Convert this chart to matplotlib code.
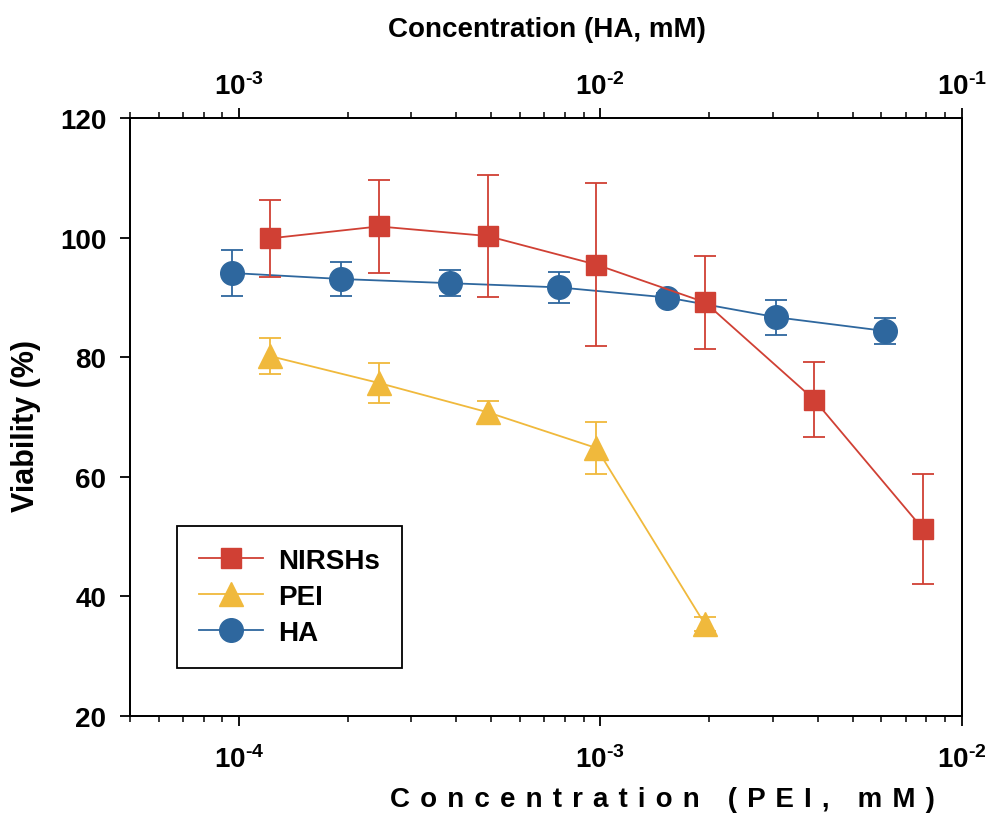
import matplotlib
matplotlib.use("Agg")
import matplotlib.pyplot as plt
from matplotlib.ticker import FixedLocator, FixedFormatter, LogLocator, NullFormatter
from matplotlib.lines import Line2D

plt.rcParams['font.family'] = ['Liberation Sans', 'DejaVu Sans']
plt.rcParams['font.weight'] = 'bold'
plt.rcParams['mathtext.fontset'] = 'custom'
plt.rcParams['mathtext.rm'] = 'Liberation Sans:bold'
plt.rcParams['mathtext.bf'] = 'Liberation Sans:bold'
plt.rcParams['mathtext.default'] = 'bf'
plt.rcParams['axes.unicode_minus'] = False

# data
pei_conc = [1.22e-4, 2.44e-4, 4.88e-4, 9.77e-4, 1.95e-3, 3.91e-3, 7.81e-3]
nirsh_val = [99.9, 101.9, 100.3, 95.5, 89.2, 72.9, 51.3]
nirsh_err = [6.5, 7.8, 10.2, 13.6, 7.8, 6.3, 9.2]

pei_x = [1.22e-4, 2.44e-4, 4.88e-4, 9.77e-4, 1.95e-3]
pei_val = [80.2, 75.7, 70.8, 64.8, 35.3]
pei_err = [3.0, 3.3, 1.9, 4.4, 1.2]

ha_conc = [9.6e-4, 1.92e-3, 3.84e-3, 7.68e-3, 1.536e-2, 3.072e-2, 6.144e-2]
ha_val = [94.1, 93.1, 92.4, 91.7, 90.0, 86.7, 84.4]
ha_err = [3.8, 2.8, 2.2, 2.6, 0.8, 2.9, 2.2]

bottom_ticks = [1e-4, 1e-3, 1e-2]
bottom_labels = ['$10^{\u20104}$', '$10^{\u20103}$', '$10^{\u20102}$']
top_ticks = [1e-3, 1e-2, 1e-1]
top_labels = ['$10^{\u20103}$', '$10^{\u20102}$', '$10^{\u20101}$']
y_ticks = [20, 40, 60, 80, 100, 120]

red = '#D04034'
yellow = '#F0B93C'
blue = '#2E679E'

fig = plt.figure(figsize=(9.89, 8.2), dpi=100)
ax = fig.add_axes([0.1314, 0.126, 0.8408, 0.7285])
ax2 = ax.twiny()

# HA on the top axis
ax2.errorbar(ha_conc, ha_val, yerr=ha_err, color=blue, marker='o', ms=17,
             lw=1.3, elinewidth=1.3, capsize=8, capthick=1.3)

ax.errorbar(pei_conc, nirsh_val, yerr=nirsh_err, color=red, marker='s', ms=14.5,
            lw=1.3, elinewidth=1.3, capsize=8, capthick=1.3)
ax.errorbar(pei_x, pei_val, yerr=pei_err, color=yellow, marker='^', ms=17,
            lw=1.3, elinewidth=1.3, capsize=8, capthick=1.3)

ax.set_zorder(ax2.get_zorder() + 1)
ax.patch.set_visible(False)

ax.set_xscale('log')
ax2.set_xscale('log')
ax.set_xlim(5e-5, 1e-2)
ax2.set_xlim(5e-4, 1e-1)
ax.set_ylim(20, 120)

ax.xaxis.set_major_locator(FixedLocator(bottom_ticks))
ax.xaxis.set_major_formatter(FixedFormatter(bottom_labels))
ax.xaxis.set_minor_locator(LogLocator(base=10, subs=range(2, 10)))
ax.xaxis.set_minor_formatter(NullFormatter())
ax2.xaxis.set_major_locator(FixedLocator(top_ticks))
ax2.xaxis.set_major_formatter(FixedFormatter(top_labels))
ax2.xaxis.set_minor_locator(LogLocator(base=10, subs=range(2, 10)))
ax2.xaxis.set_minor_formatter(NullFormatter())
ax.set_yticks(y_ticks)

for a in (ax, ax2):
    for s in a.spines.values():
        s.set_linewidth(1.3)
ax.tick_params(axis='x', which='major', direction='out', length=7, width=1.3,
               labelsize=20, pad=14, top=False)
ax.tick_params(axis='x', which='minor', direction='out', length=4, width=1.1, top=False)
ax.tick_params(axis='y', direction='out', length=7, width=1.3, labelsize=20, pad=10,
               right=False)
ax2.tick_params(axis='x', which='major', direction='out', length=7, width=1.3,
                labelsize=20, pad=6, bottom=False)
ax2.tick_params(axis='x', which='minor', direction='out', length=4, width=1.1, bottom=False)
ax2.tick_params(axis='y', right=False, labelright=False)

fig.text(547 / 989, 1 - 30 / 820, 'Concentration (HA, mM)', ha='center', va='center',
         fontsize=20, fontweight='bold')
spaced = ' \u200a'.join('Concentration (PEI, mM)')
fig.text(662 / 989, 1 - 800 / 820, spaced,
         ha='center', va='center', fontsize=20, fontweight='bold')
fig.text(26 / 989, 1 - 426 / 820, 'Viability (%)', ha='center', va='center',
         rotation=90, fontsize=22, fontweight='bold')

handles = [Line2D([], [], color=red, marker='s', ms=14.5, lw=1.3),
           Line2D([], [], color=yellow, marker='^', ms=17, lw=1.3),
           Line2D([], [], color=blue, marker='o', ms=17, lw=1.3)]
leg = ax.legend(handles, ['NIRSHs', 'PEI', 'HA'], loc='upper left',
                bbox_to_anchor=(0.0567, 0.3178), borderaxespad=0, fancybox=False,
                edgecolor='black', framealpha=1, fontsize=20, handlelength=2.28,
                labelspacing=0.36, borderpad=0.8, handletextpad=0.55)
leg.get_frame().set_linewidth(1.3)

fig.savefig('out.png', dpi=100)
